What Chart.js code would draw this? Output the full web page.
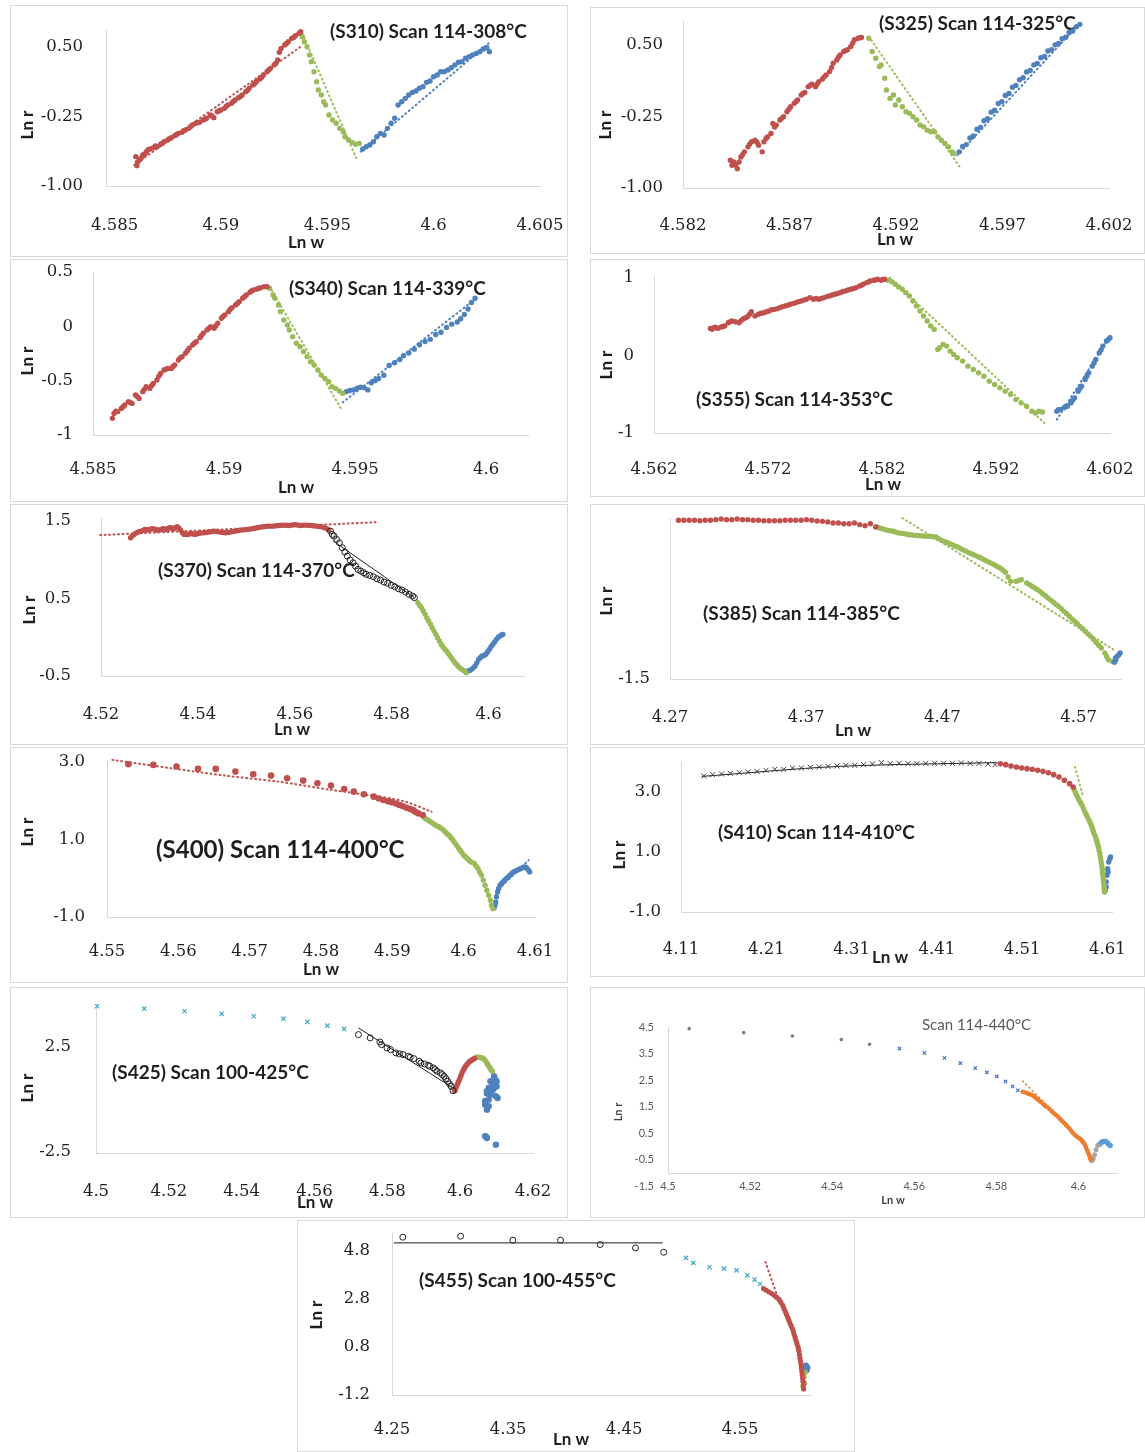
<!DOCTYPE html>
<html>
<head>
<meta charset="utf-8">
<title>Ln r vs Ln w scans</title>
<script src="https://cdn.jsdelivr.net/npm/chart.js@4.4.1/dist/chart.umd.min.js"></script>
<style>
  html, body { margin: 0; padding: 0; background: #fff; }
  body { width: 1145px; height: 1452px; position: relative; overflow: hidden; }
  .panel { position: absolute; box-sizing: border-box; outline: 1px solid #d9d9d9; outline-offset: -1px; background: #fff; }
  .panel canvas { position: absolute; left: 0; top: 0; }
</style>
</head>
<body>
<script>
// ---------- S310 ----------
const s310XTicks = ['4.585', '4.59', '4.595', '4.6', '4.605'];
const s310YTicks = ['0.50', '-0.25', '-1.00'];
const s310Red = [[4.58600,-0.684],[4.58605,-0.781],[4.58617,-0.720],[4.58633,-0.666],[4.58650,-0.630],[4.58667,-0.602],[4.58683,-0.587],[4.58700,-0.576],[4.58717,-0.551],[4.58733,-0.523],[4.58750,-0.505],[4.58767,-0.480],[4.58783,-0.458],[4.58800,-0.433],[4.58817,-0.422],[4.58833,-0.397],[4.58850,-0.379],[4.58867,-0.343],[4.58883,-0.325],[4.58900,-0.314],[4.58917,-0.289],[4.58933,-0.271],[4.58950,-0.236],[4.58967,-0.264],[4.58983,-0.200],[4.59000,-0.182],[4.59017,-0.164],[4.59033,-0.128],[4.59050,-0.110],[4.59067,-0.074],[4.59083,-0.049],[4.59100,-0.020],[4.59117,0.016],[4.59133,0.052],[4.59150,0.087],[4.59167,0.123],[4.59183,0.152],[4.59200,0.195],[4.59217,0.231],[4.59233,0.267],[4.59250,0.303],[4.59267,0.357],[4.59283,0.482],[4.59300,0.518],[4.59317,0.554],[4.59333,0.590],[4.59350,0.619],[4.59367,0.644],[4.59375,0.662],
  [4.58608,-0.745],[4.58625,-0.700],[4.58642,-0.655],[4.58658,-0.610],[4.58692,-0.570],[4.58725,-0.540],[4.58758,-0.490],[4.58792,-0.445],[4.58825,-0.405],[4.58858,-0.360],[4.58892,-0.318],[4.58925,-0.280],[4.58958,-0.245],[4.58992,-0.190],[4.59025,-0.140],[4.59058,-0.090],[4.59092,-0.035],[4.59125,0.030],[4.59158,0.100],[4.59192,0.170],[4.59225,0.250],[4.59258,0.320],[4.59275,0.440],[4.59308,0.535],[4.59342,0.600]];
const s310RedFit = [[4.58592,-0.774],[4.59375,0.500]];
const s310Green = [[4.59383,0.608],[4.59392,0.554],[4.59405,0.500],[4.59417,0.411],[4.59425,0.339],[4.59438,0.231],[4.59450,0.123],[4.59458,0.034],[4.59472,-0.020],[4.59483,-0.092],[4.59492,-0.128],[4.59508,-0.236],[4.59525,-0.289],[4.59542,-0.325],[4.59558,-0.379],[4.59575,-0.415],[4.59583,-0.469],[4.59600,-0.505],[4.59617,-0.530],[4.59633,-0.551],[4.59650,-0.541]];
const s310GreenFit = [[4.59383,0.644],[4.59642,-0.731]];
const s310Blue = [[4.59667,-0.602],[4.59683,-0.576],[4.59700,-0.559],[4.59717,-0.523],[4.59733,-0.469],[4.59750,-0.433],[4.59767,-0.451],[4.59783,-0.379],[4.59800,-0.325],[4.59817,-0.271],[4.59833,-0.128],[4.59850,-0.092],[4.59867,-0.056],[4.59883,-0.020],[4.59900,0.008],[4.59917,0.023],[4.59933,0.052],[4.59950,0.070],[4.59967,0.116],[4.59983,0.131],[4.60000,0.177],[4.60017,0.195],[4.60033,0.231],[4.60050,0.231],[4.60067,0.249],[4.60083,0.274],[4.60100,0.303],[4.60117,0.332],[4.60133,0.339],[4.60150,0.375],[4.60167,0.393],[4.60183,0.411],[4.60200,0.428],[4.60217,0.446],[4.60233,0.475],[4.60250,0.489],[4.60262,0.446]];
const s310BlueFit = [[4.59658,-0.630],[4.60258,0.536]];

// ---------- S325 ----------
const s325XTicks = ['4.582', '4.587', '4.592', '4.597', '4.602'];
const s325YTicks = ['0.50', '-0.25', '-1.00'];
const s325Red = [[4.58422,-0.709],[4.58430,-0.762],[4.58438,-0.727],[4.58455,-0.797],[4.58463,-0.727],[4.58472,-0.674],[4.58488,-0.621],[4.58505,-0.569],[4.58522,-0.516],[4.58538,-0.499],[4.58555,-0.551],[4.58572,-0.621],[4.58580,-0.516],[4.58597,-0.464],[4.58613,-0.429],[4.58622,-0.324],[4.58638,-0.341],[4.58655,-0.288],[4.58672,-0.253],[4.58688,-0.201],[4.58705,-0.148],[4.58722,-0.113],[4.58738,-0.078],[4.58755,-0.026],[4.58772,0.002],[4.58788,0.062],[4.58805,0.087],[4.58822,0.062],[4.58838,0.115],[4.58855,0.143],[4.58872,0.185],[4.58888,0.220],[4.58905,0.307],[4.58922,0.342],[4.58938,0.395],[4.58955,0.430],[4.58972,0.448],[4.58988,0.483],[4.59005,0.553],[4.59022,0.570],[4.59038,0.577],
  [4.58447,-0.760],[4.58480,-0.650],[4.58513,-0.540],[4.58547,-0.520],[4.58590,-0.480],[4.58630,-0.360],[4.58663,-0.270],[4.58697,-0.175],[4.58730,-0.095],[4.58763,-0.010],[4.58797,0.075],[4.58830,0.090],[4.58863,0.165],[4.58897,0.260],[4.58930,0.370],[4.58963,0.440],[4.58997,0.520],[4.59030,0.575]];
const s325Green = [[4.59072,0.570],[4.59088,0.430],[4.59105,0.360],[4.59122,0.272],[4.59130,0.290],[4.59147,0.150],[4.59155,0.027],[4.59172,-0.061],[4.59188,-0.026],[4.59197,-0.131],[4.59213,-0.078],[4.59230,-0.148],[4.59247,-0.201],[4.59263,-0.218],[4.59280,-0.253],[4.59297,-0.288],[4.59313,-0.341],[4.59330,-0.359],[4.59347,-0.394],[4.59363,-0.411],[4.59380,-0.411],[4.59397,-0.464],[4.59413,-0.499],[4.59430,-0.534],[4.59447,-0.569],[4.59463,-0.621],[4.59472,-0.639]];
const s325GreenFit = [[4.59072,0.588],[4.59505,-0.797]];
const s325Blue = [[4.59497,-0.621],[4.59513,-0.565],[4.59530,-0.545],[4.59547,-0.475],[4.59563,-0.455],[4.59580,-0.385],[4.59597,-0.365],[4.59613,-0.295],[4.59630,-0.275],[4.59647,-0.205],[4.59663,-0.185],[4.59680,-0.115],[4.59697,-0.095],[4.59713,-0.030],[4.59730,-0.010],[4.59747,0.055],[4.59763,0.075],[4.59780,0.135],[4.59797,0.155],[4.59813,0.215],[4.59830,0.232],[4.59847,0.290],[4.59863,0.305],[4.59880,0.365],[4.59897,0.378],[4.59913,0.435],[4.59930,0.448],[4.59947,0.500],[4.59963,0.515],[4.59980,0.565],[4.59997,0.580],[4.60013,0.630],[4.60030,0.645],[4.60047,0.690],[4.60063,0.715]];
const s325BlueFit = [[4.59488,-0.657],[4.60063,0.728]];

// ---------- S340 ----------
const s340XTicks = ['4.585', '4.59', '4.595', '4.6'];
const s340YTicks = ['0.5', '0', '-0.5', '-1'];
const s340Red = [[4.58574,-0.847],[4.58580,-0.801],[4.58594,-0.785],[4.58608,-0.755],[4.58621,-0.724],[4.58635,-0.693],[4.58649,-0.709],[4.58662,-0.632],[4.58676,-0.663],[4.58690,-0.601],[4.58703,-0.555],[4.58717,-0.571],[4.58730,-0.525],[4.58744,-0.494],[4.58758,-0.433],[4.58771,-0.402],[4.58785,-0.387],[4.58799,-0.387],[4.58812,-0.356],[4.58826,-0.310],[4.58840,-0.279],[4.58853,-0.248],[4.58867,-0.202],[4.58880,-0.172],[4.58894,-0.141],[4.58908,-0.104],[4.58921,-0.064],[4.58935,-0.034],[4.58949,-0.003],[4.58962,-0.018],[4.58976,0.028],[4.58990,0.074],[4.59003,0.104],[4.59017,0.135],[4.59030,0.172],[4.59044,0.196],[4.59058,0.227],[4.59071,0.258],[4.59085,0.288],[4.59099,0.313],[4.59112,0.334],[4.59126,0.344],[4.59140,0.356],[4.59153,0.365],[4.59164,0.365],
  [4.58587,-0.780],[4.58615,-0.740],[4.58642,-0.700],[4.58669,-0.645],[4.58696,-0.580],[4.58724,-0.545],[4.58751,-0.460],[4.58778,-0.395],[4.58805,-0.370],[4.58833,-0.290],[4.58860,-0.225],[4.58887,-0.155],[4.58914,-0.085],[4.58942,-0.020],[4.58969,0.005],[4.58996,0.090],[4.59023,0.155],[4.59051,0.210],[4.59078,0.272],[4.59105,0.325],[4.59133,0.350]];
const s340Green = [[4.59174,0.350],[4.59187,0.288],[4.59194,0.258],[4.59208,0.196],[4.59215,0.135],[4.59228,0.058],[4.59242,0.012],[4.59249,-0.034],[4.59262,-0.095],[4.59276,-0.156],[4.59290,-0.187],[4.59303,-0.233],[4.59317,-0.279],[4.59330,-0.325],[4.59344,-0.356],[4.59358,-0.402],[4.59371,-0.448],[4.59385,-0.479],[4.59399,-0.509],[4.59412,-0.555],[4.59426,-0.571],[4.59440,-0.595],[4.59453,-0.617]];
const s340GreenFit = [[4.59174,0.365],[4.59446,-0.755]];
const s340Blue = [[4.59467,-0.601],[4.59480,-0.590],[4.59494,-0.585],[4.59508,-0.570],[4.59521,-0.560],[4.59535,-0.565],[4.59549,-0.585],[4.59562,-0.520],[4.59576,-0.500],[4.59590,-0.480],[4.59610,-0.450],[4.59630,-0.360],[4.59651,-0.335],[4.59671,-0.305],[4.59685,-0.270],[4.59705,-0.245],[4.59726,-0.210],[4.59746,-0.170],[4.59767,-0.140],[4.59787,-0.120],[4.59808,-0.075],[4.59828,-0.055],[4.59849,-0.010],[4.59869,0.020],[4.59890,0.040],[4.59903,0.070],[4.59917,0.110],[4.59931,0.160],[4.59944,0.220],[4.59958,0.258]];
const s340BlueFit = [[4.59453,-0.700],[4.59958,0.250]];

// ---------- S355 ----------
const s355XTicks = ['4.562', '4.572', '4.582', '4.592', '4.602'];
const s355YTicks = ['1', '0', '-1'];
const s355Red = [[4.56695,0.346],[4.56726,0.355],[4.56758,0.346],[4.56789,0.363],[4.56820,0.376],[4.56851,0.419],[4.56882,0.441],[4.56913,0.432],[4.56945,0.419],[4.56976,0.462],[4.57007,0.484],[4.57038,0.527],[4.57054,0.561],[4.57085,0.505],[4.57116,0.527],[4.57163,0.548],[4.57209,0.570],[4.57256,0.591],[4.57303,0.613],[4.57350,0.634],[4.57396,0.656],[4.57443,0.677],[4.57490,0.699],[4.57536,0.720],[4.57568,0.742],[4.57599,0.720],[4.57645,0.720],[4.57692,0.742],[4.57739,0.763],[4.57786,0.785],[4.57832,0.806],[4.57879,0.828],[4.57926,0.849],[4.57973,0.871],[4.58004,0.892],[4.58035,0.914],[4.58066,0.935],[4.58097,0.957],[4.58128,0.966],[4.58160,0.978],[4.58191,0.966],[4.58222,0.978],
  [4.57140,0.540],[4.57186,0.560],[4.57232,0.585],[4.57280,0.600],[4.57326,0.625],[4.57373,0.645],[4.57420,0.665],[4.57466,0.690],[4.57513,0.710],[4.57622,0.730],[4.57668,0.730],[4.57716,0.755],[4.57762,0.775],[4.57810,0.795],[4.57856,0.820],[4.57902,0.840],[4.57950,0.860],[4.58020,0.900],[4.58082,0.945],[4.58144,0.970],[4.58206,0.975],[4.56710,0.335],[4.56740,0.360],[4.56805,0.370],[4.56867,0.430],[4.56960,0.440],[4.56990,0.475],[4.57022,0.500]];
const s355Green = [[4.58253,0.966],[4.58284,0.948],[4.58315,0.914],[4.58346,0.880],[4.58378,0.849],[4.58409,0.806],[4.58440,0.763],[4.58471,0.699],[4.58502,0.634],[4.58533,0.570],[4.58564,0.505],[4.58596,0.441],[4.58627,0.376],[4.58658,0.333],[4.58689,0.075],[4.58705,0.097],[4.58736,0.140],[4.58767,0.118],[4.58798,0.054],[4.58829,0.011],[4.58860,-0.032],[4.58907,-0.075],[4.58954,-0.140],[4.59001,-0.183],[4.59047,-0.226],[4.59094,-0.269],[4.59141,-0.333],[4.59188,-0.376],[4.59234,-0.419],[4.59281,-0.462],[4.59328,-0.505],[4.59374,-0.570],[4.59421,-0.613],[4.59468,-0.656],[4.59515,-0.720],[4.59546,-0.742],[4.59577,-0.720],[4.59608,-0.730]];
const s355GreenFit = [[4.58269,1.000],[4.59624,-0.871]];
const s355Blue = [[4.59733,-0.720],[4.59764,-0.699],[4.59795,-0.677],[4.59826,-0.656],[4.59857,-0.613],[4.59889,-0.548],[4.59920,-0.462],[4.59951,-0.398],[4.59982,-0.312],[4.60013,-0.226],[4.60044,-0.140],[4.60075,-0.054],[4.60106,0.032],[4.60137,0.118],[4.60169,0.183],[4.60200,0.226],
  [4.59748,-0.700],[4.59810,-0.660],[4.59872,-0.580],[4.59935,-0.430],[4.59997,-0.270],[4.60060,-0.100],[4.60122,0.070],[4.60184,0.200]];
const s355BlueFit = [[4.59733,-0.828],[4.60200,0.247]];

// ---------- S370 ----------
const s370XTicks = ['4.52', '4.54', '4.56', '4.58', '4.6'];
const s370YTicks = ['1.5', '0.5', '-0.5'];
const s370Red = [[4.52611,1.285],[4.52685,1.328],[4.52759,1.358],[4.52832,1.371],[4.52906,1.392],[4.52980,1.384],[4.53053,1.401],[4.53127,1.392],[4.53201,1.384],[4.53274,1.401],[4.53348,1.392],[4.53422,1.414],[4.53495,1.401],[4.53569,1.427],[4.53643,1.384],[4.53716,1.328],[4.53790,1.328],[4.53864,1.341],[4.53937,1.328],[4.54011,1.341],[4.54122,1.349],[4.54232,1.358],[4.54343,1.371],[4.54453,1.358],[4.54564,1.349],[4.54674,1.358],[4.54785,1.371],[4.54895,1.384],[4.55006,1.392],[4.55116,1.401],[4.55227,1.414],[4.55337,1.427],[4.55448,1.435],[4.55558,1.435],[4.55669,1.444],[4.55779,1.448],[4.55890,1.444],[4.56000,1.453],[4.56111,1.444],[4.56221,1.448],[4.56332,1.444],[4.56442,1.435],[4.56553,1.427],[4.56663,1.401],[4.56700,1.384],
  [4.52648,1.310],[4.52722,1.345],[4.52795,1.365],[4.52869,1.380],[4.52943,1.390],[4.53016,1.395],[4.53090,1.400],[4.53164,1.385],[4.53238,1.390],[4.53311,1.400],[4.53385,1.405],[4.53458,1.410],[4.53532,1.415],[4.53606,1.410],[4.53680,1.350],[4.53753,1.330],[4.53827,1.335],[4.53900,1.335],[4.53974,1.335],[4.54066,1.345],[4.54177,1.352],[4.54288,1.365],[4.54398,1.365],[4.54509,1.352],[4.54619,1.352],[4.54730,1.365],[4.54840,1.378],[4.54950,1.388],[4.55061,1.396],[4.55172,1.408],[4.55282,1.420],[4.55393,1.431],[4.55503,1.435],[4.55614,1.440],[4.55724,1.446],[4.55835,1.446],[4.55945,1.449],[4.56055,1.449],[4.56166,1.446],[4.56276,1.446],[4.56387,1.440],[4.56497,1.431],[4.56608,1.415]];
const s370RedFit = [[4.51985,1.319],[4.57731,1.487]];
const s370Rings = [[4.56737,1.371],[4.56773,1.328],[4.56810,1.306],[4.56862,1.263],[4.56921,1.220],[4.56980,1.156],[4.57031,1.100],[4.57083,1.048],[4.57142,0.997],[4.57201,0.962],[4.57252,0.919],[4.57304,0.876],[4.57363,0.855],[4.57422,0.833],[4.57473,0.812],[4.57547,0.799],[4.57621,0.782],[4.57694,0.756],[4.57768,0.739],[4.57842,0.713],[4.57915,0.696],[4.57989,0.670],[4.58063,0.653],[4.58136,0.627],[4.58210,0.610],[4.58284,0.584],[4.58357,0.554],[4.58431,0.532],[4.58468,0.511]];
const s370RingsFit = [[4.56796,1.242],[4.58468,0.511]];
const s370Green = [[4.58541,0.446],[4.58615,0.382],[4.58689,0.296],[4.58762,0.210],[4.58836,0.124],[4.58910,0.038],[4.58983,-0.048],[4.59057,-0.122],[4.59131,-0.177],[4.59204,-0.242],[4.59278,-0.306],[4.59352,-0.362],[4.59425,-0.405],[4.59499,-0.435],[4.59536,-0.457],
  [4.58578,0.410],[4.58652,0.340],[4.58726,0.250],[4.58799,0.170],[4.58873,0.080],[4.58946,-0.005],[4.59020,-0.090],[4.59094,-0.150],[4.59168,-0.210],[4.59241,-0.275],[4.59315,-0.335],[4.59388,-0.385],[4.59462,-0.420]];
const s370Blue = [[4.59573,-0.435],[4.59646,-0.414],[4.59720,-0.371],[4.59794,-0.285],[4.59867,-0.242],[4.59941,-0.220],[4.60015,-0.156],[4.60088,-0.091],[4.60162,-0.027],[4.60236,0.016],[4.60295,0.038],
  [4.59610,-0.430],[4.59683,-0.395],[4.59757,-0.330],[4.59830,-0.260],[4.59904,-0.235],[4.59978,-0.190],[4.60051,-0.120],[4.60125,-0.060],[4.60199,0.000],[4.60265,0.030]];

// ---------- S385 ----------
const s385XTicks = ['4.27', '4.37', '4.47', '4.57'];
const s385YTicks = ['-1.5'];
const s385Red = [[4.27626,1.457],[4.28017,1.457],[4.28408,1.457],[4.28800,1.457],[4.29191,1.450],[4.29582,1.457],[4.29973,1.457],[4.30365,1.469],[4.30756,1.481],[4.31147,1.469],[4.31538,1.469],[4.31930,1.481],[4.32321,1.469],[4.32712,1.469],[4.33103,1.457],[4.33495,1.457],[4.33886,1.450],[4.34277,1.450],[4.34668,1.450],[4.35060,1.450],[4.35451,1.457],[4.35842,1.457],[4.36233,1.457],[4.36625,1.457],[4.37016,1.469],[4.37407,1.457],[4.37798,1.444],[4.38190,1.438],[4.38581,1.425],[4.38972,1.407],[4.39363,1.407],[4.39754,1.394],[4.40146,1.394],[4.40537,1.407],[4.40928,1.376],[4.41319,1.357],[4.41711,1.394],[4.42102,1.332]];
const s385Green = [[4.42232,1.332],[4.42623,1.295],[4.43014,1.270],[4.43406,1.252],[4.43797,1.220],[4.44188,1.208],[4.44579,1.189],[4.44971,1.177],[4.45362,1.171],[4.45753,1.158],[4.46144,1.158],[4.46536,1.146],[4.46927,1.084],[4.47318,1.047],[4.47709,1.003],[4.48101,0.960],[4.48492,0.910],[4.48883,0.860],[4.49274,0.817],[4.49665,0.773],[4.50057,0.724],[4.50448,0.674],[4.50839,0.624],[4.51230,0.568],[4.51622,0.488],[4.52013,0.320],[4.52404,0.320],[4.52795,0.351],[4.53187,0.289],[4.53578,0.227],[4.53969,0.165],[4.54360,0.090],[4.54752,0.009],[4.55143,-0.071],[4.55534,-0.146],[4.55925,-0.239],[4.56317,-0.332],[4.56708,-0.425],[4.57099,-0.519],[4.57490,-0.612],[4.57881,-0.705],[4.58273,-0.817],[4.58664,-0.922],[4.58925,-1.016],[4.59186,-1.140],[4.59446,-1.171],
  [4.42428,1.310],[4.42820,1.280],[4.43210,1.260],[4.43600,1.235],[4.43990,1.214],[4.44380,1.198],[4.44770,1.183],[4.45170,1.174],[4.45560,1.165],[4.45950,1.160],[4.46340,1.150],[4.46730,1.115],[4.47120,1.065],[4.47510,1.025],[4.47910,0.980],[4.48300,0.935],[4.48690,0.885],[4.49080,0.840],[4.49470,0.795],[4.49860,0.750],[4.50250,0.700],[4.50640,0.650],[4.51030,0.595],[4.51430,0.530],[4.51820,0.400],[4.52610,0.335],[4.53390,0.260],[4.53780,0.195],[4.54170,0.130],[4.54560,0.050],[4.54950,-0.030],[4.55340,-0.110],[4.55730,-0.190],[4.56120,-0.285],[4.56510,-0.380],[4.56900,-0.470],[4.57290,-0.565],[4.57690,-0.660],[4.58080,-0.760],[4.58470,-0.870],[4.59060,-1.080]];
const s385GreenFit = [[4.44058,1.500],[4.59577,-0.953]];
const s385Blue = [[4.59629,-1.189],[4.59733,-1.140],[4.59837,-1.078],[4.59942,-1.047],[4.60046,-1.016],[4.59707,-1.109]];

// ---------- S400 ----------
const s400XTicks = ['4.55', '4.56', '4.57', '4.58', '4.59', '4.6', '4.61'];
const s400YTicks = ['3.0', '1.0', '-1.0'];
const s400Red = [[4.55300,2.931],[4.55650,2.914],[4.55975,2.871],[4.56275,2.811],[4.56525,2.811],[4.56800,2.742],[4.57050,2.673],[4.57300,2.639],[4.57525,2.570],[4.57750,2.510],[4.57950,2.441],[4.58140,2.381],[4.58325,2.295],[4.58460,2.226],[4.58600,2.157],[4.58740,2.097],[4.58875,2.011],[4.58990,1.951],[4.59100,1.882],[4.59200,1.813],[4.59290,1.753],[4.59360,1.667],[4.59425,1.624],
  [4.58810,2.050],[4.58940,1.980],[4.59050,1.920],[4.59150,1.850],[4.59250,1.780],[4.59320,1.710]];
const s400RedFit = [[4.55075,3.043],[4.55900,2.828],[4.56650,2.639],[4.57400,2.484],[4.58150,2.269],[4.58650,2.140],[4.59150,1.985],[4.59550,1.710]];
const s400Green = [[4.59450,1.555],[4.59500,1.495],[4.59550,1.434],[4.59600,1.366],[4.59650,1.323],[4.59700,1.262],[4.59750,1.176],[4.59800,1.090],[4.59850,0.978],[4.59900,0.849],[4.59950,0.720],[4.60000,0.591],[4.60050,0.505],[4.60100,0.419],[4.60150,0.376],[4.60200,0.247],[4.60250,0.075],[4.60300,-0.183],[4.60350,-0.441],[4.60390,-0.699],[4.60410,-0.785],
  [4.59475,1.520],[4.59525,1.460],[4.59575,1.400],[4.59625,1.345],[4.59675,1.290],[4.59725,1.220],[4.59775,1.130],[4.59825,1.035],[4.59875,0.910],[4.59925,0.785],[4.59975,0.655],[4.60025,0.550],[4.60075,0.460],[4.60125,0.400],[4.60175,0.310],[4.60225,0.160],[4.60275,-0.050],[4.60325,-0.310],[4.60375,-0.570]];
const s400Blue = [[4.60425,-0.768],[4.60450,-0.613],[4.60475,-0.355],[4.60510,-0.183],[4.60550,-0.097],[4.60600,-0.011],[4.60650,0.075],[4.60700,0.161],[4.60750,0.204],[4.60800,0.247],[4.60850,0.290],[4.60890,0.247],[4.60925,0.161],
  [4.60440,-0.700],[4.60460,-0.480],[4.60490,-0.270],[4.60530,-0.140],[4.60575,-0.050],[4.60625,0.030],[4.60675,0.120],[4.60725,0.180],[4.60775,0.225],[4.60825,0.270],[4.60870,0.280],[4.60910,0.200]];
const s400BlueFit = [[4.60500,-0.269],[4.60910,0.462]];

// ---------- S410 ----------
const s410XTicks = ['4.11', '4.21', '4.31', '4.41', '4.51', '4.61'];
const s410YTicks = ['3.0', '1.0', '-1.0'];
const s410Cross = [[4.13667,3.533],[4.14708,3.578],[4.15750,3.600],[4.16792,3.622],[4.17833,3.644],[4.18875,3.667],[4.19917,3.689],[4.20958,3.722],[4.22000,3.756],[4.23042,3.756],[4.24083,3.800],[4.25125,3.800],[4.26167,3.822],[4.27208,3.833],[4.28250,3.856],[4.29292,3.867],[4.30333,3.889],[4.31375,3.889],[4.32417,3.911],[4.33458,3.933],[4.34500,3.978],[4.35542,3.944],[4.36583,3.956],[4.37625,3.944],[4.38667,3.944],[4.39708,3.956],[4.40750,3.956],[4.41792,3.956],[4.42833,3.956],[4.43875,3.967],[4.44917,3.956],[4.45958,3.956],[4.47000,3.933],[4.47833,3.911]];
const s410CrossFit = [[4.13460,3.520],[4.29290,3.850],[4.48040,3.980]];
const s410Red = [[4.48458,3.944],[4.49083,3.911],[4.49708,3.867],[4.50333,3.833],[4.50958,3.800],[4.51583,3.778],[4.52208,3.756],[4.52833,3.722],[4.53458,3.689],[4.54083,3.644],[4.54708,3.578],[4.55333,3.500],[4.55958,3.389],[4.56583,3.278],[4.57000,3.167]];
const s410Green = [[4.57125,3.056],[4.57417,2.889],[4.57708,2.722],[4.58042,2.556],[4.58375,2.333],[4.58667,2.167],[4.58958,2.000],[4.59208,1.833],[4.59375,1.667],[4.59625,1.500],[4.59792,1.333],[4.59958,1.167],[4.60125,0.944],[4.60250,0.722],[4.60375,0.500],[4.60458,0.278],[4.60542,0.056],[4.60625,-0.167],[4.60667,-0.333],
  [4.57271,2.970],[4.57563,2.800],[4.57875,2.640],[4.58208,2.440],[4.58520,2.250],[4.58813,2.080],[4.59083,1.920],[4.59290,1.750],[4.59500,1.580],[4.59710,1.410],[4.59875,1.250],[4.60040,1.050],[4.60188,0.830],[4.60313,0.610],[4.60417,0.390],[4.60500,0.170],[4.60583,-0.050],[4.60650,-0.250]];
const s410GreenFit = [[4.57208,3.833],[4.58125,2.889]];
const s410Blue = [[4.60750,-0.278],[4.60875,0.000],[4.60958,0.222],[4.61042,0.444],[4.61167,0.667],[4.61292,0.778],[4.61375,0.833],[4.60875,-0.167],[4.61083,0.333]];

// ---------- S425 ----------
const s425XTicks = ['4.5', '4.52', '4.54', '4.56', '4.58', '4.6', '4.62'];
const s425YTicks = ['2.5', '-2.5'];
const s425Cross = [[4.50029,4.405],[4.51324,4.294],[4.52431,4.167],[4.53451,4.040],[4.54333,3.929],[4.55147,3.817],[4.55804,3.659],[4.56353,3.484],[4.56814,3.325]];
const s425Rings = [[4.57206,3.056],[4.57529,2.897],[4.57794,2.706],[4.58088,2.341],[4.58235,2.183],[4.58431,2.103],[4.58578,2.024],[4.58725,1.913],[4.58873,1.786],[4.59020,1.659],[4.59167,1.548],[4.59314,1.389],[4.59461,1.230],[4.59559,1.071],[4.59657,0.833],[4.59755,0.595],[4.59804,0.389],[4.57843,2.579],[4.57990,2.421],[4.58333,2.135],[4.58627,1.976],[4.58922,1.706],[4.59118,1.595],[4.59265,1.468],[4.59363,1.310],[4.59510,1.151],[4.59608,0.960],[4.59706,0.706]];
const s425RingsFit = [[4.57206,3.373],[4.59804,0.516]];
const s425Red = [[4.59853,0.389],[4.59922,0.675],[4.59980,0.913],[4.60049,1.230],[4.60118,1.468],[4.60196,1.659],[4.60294,1.817],[4.60392,1.913],[4.59885,0.530],[4.59950,0.800],[4.60015,1.070],[4.60085,1.360],[4.60157,1.570],[4.60245,1.750],[4.60343,1.870]];
const s425Green = [[4.60441,1.976],[4.60539,1.976],[4.60637,1.913],[4.60735,1.706],[4.60804,1.500],[4.60882,1.310],[4.60490,1.980],[4.60588,1.950],[4.60686,1.820],[4.60770,1.600],[4.60843,1.400]];
const s425Blue = [[4.60931,1.071],[4.60960,0.913],[4.60833,0.833],[4.60882,0.675],[4.60784,0.516],[4.60931,0.516],[4.60735,0.357],[4.60833,0.198],[4.60980,0.119],[4.60784,-0.040],[4.60686,-0.278],[4.60735,-0.516],[4.61029,0.040],[4.60686,-1.786],[4.60735,-1.865],[4.60980,-2.183],[4.60882,0.754],[4.61000,0.833],[4.60735,0.250],[4.60890,0.400],[4.61000,0.600],[4.60686,-0.100],[4.60784,-0.350],[4.60710,-1.800]];

// ---------- Scan 114-440 ----------
const s440XTicks = ['4.5', '4.52', '4.54', '4.56', '4.58', '4.6'];
const s440YTicks = ['4.5', '3.5', '2.5', '1.5', '0.5', '-0.5', '-1.5'];
const s440Early = [[4.50515,4.4375],[4.51845,4.2875],[4.53030,4.1625],[4.54223,4.0250],[4.54910,3.8500]];
const s440Cross = [[4.55640,3.6875],[4.56249,3.5250],[4.56738,3.3375],[4.57124,3.1375],[4.57485,2.9500],[4.57768,2.7875],[4.58009,2.6375],[4.58223,2.4500],[4.58395,2.2625],[4.58524,2.1125]];
const s440Orange = [[4.58644,2.0625],[4.58755,2.0000],[4.58867,1.9375],[4.58970,1.8125],[4.59073,1.6875],[4.59185,1.5375],[4.59296,1.4125],[4.59399,1.2500],[4.59502,1.1250],[4.59597,0.9625],[4.59700,0.8125],[4.59785,0.6625],[4.59871,0.5000],[4.59957,0.3750],[4.60043,0.2875],[4.60103,0.1875],[4.60155,0.0625],[4.60197,-0.0875],[4.60240,-0.2500],[4.60275,-0.3750],[4.60300,-0.5000],
  [4.58700,2.030],[4.58810,1.970],[4.58920,1.880],[4.59020,1.750],[4.59130,1.610],[4.59240,1.480],[4.59350,1.330],[4.59450,1.190],[4.59550,1.040],[4.59650,0.890],[4.59740,0.740],[4.59830,0.580],[4.59910,0.440],[4.60000,0.330],[4.60070,0.240],[4.60130,0.130],[4.60180,-0.010],[4.60220,-0.170],[4.60260,-0.310],[4.60290,-0.440]];
const s440OrangeFit = [[4.58644,2.4625],[4.59227,1.5625]];
const s440Gray = [[4.60326,-0.5375],[4.60360,-0.4625],[4.60395,-0.3125],[4.60429,-0.1250],[4.60472,0.0375]];
const s440Blue = [[4.60515,0.0875],[4.60567,0.1625],[4.60618,0.1875],[4.60670,0.1875],[4.60721,0.1125],[4.60773,0.0375]];

// ---------- S455 ----------
const s455XTicks = ['4.25', '4.35', '4.45', '4.55'];
const s455YTicks = ['4.8', '2.8', '0.8', '-1.2'];
const s455Rings = [[4.25933,5.383],[4.30906,5.425],[4.35413,5.258],[4.39516,5.258],[4.42936,5.076],[4.45983,4.937],[4.48407,4.755]];
const s455RingsFit = [[4.25155,5.146],[4.48310,5.146]];
const s455Cross = [[4.50334,4.518],[4.50956,4.309],[4.52355,4.128],[4.53598,4.072],[4.54686,4.002],[4.55619,3.793],[4.56241,3.612],[4.56707,3.430]];
const s455Red = [[4.57018,3.235],[4.57484,3.096],[4.57950,2.956],[4.58354,2.775],[4.58665,2.538],[4.58883,2.287],[4.59100,2.036],[4.59287,1.799],[4.59505,1.562],[4.59660,1.310],[4.59816,1.059],[4.59971,0.822],[4.60064,0.613],[4.60157,0.334],[4.60251,0.055],[4.60313,-0.224],[4.60375,-0.503],[4.60437,-0.782],[4.60468,-0.949],
  [4.57250,3.170],[4.57720,3.030],[4.58150,2.870],[4.58510,2.660],[4.58770,2.410],[4.58990,2.160],[4.59190,1.920],[4.59400,1.680],[4.59580,1.440],[4.59740,1.180],[4.59890,0.940],[4.60020,0.720],[4.60110,0.470],[4.60200,0.190],[4.60280,-0.080],[4.60340,-0.360],[4.60410,-0.640]];
const s455RedFit = [[4.57174,4.351],[4.58261,2.845]];
const s455Green = [[4.60406,-0.851],[4.60468,-0.642],[4.60530,-0.433],[4.60592,-0.252],[4.60561,-0.712]];
const s455Blue = [[4.60654,0.027],[4.60779,-0.056],[4.60716,-0.154]];

// ---------- drawing ----------
const RED = '#C0504D', GREEN = '#9BBB59', BLUE = '#4F81BD', TEAL = '#4BACC6', INK = '#1f1f1f';
const ORANGE = '#ED7D31', GREY = '#A5A5A5', SKY = '#5B9BD5', NAVY = '#4472C4';

const TICK_FONT = { family: 'DejaVu Serif', size: 16.5 };
const TICK_COLOR = '#1f1f1f';
const AXIS_FONT = 'bold 17px Lato';
const NOTE_FONT = 'bold 19px Lato';

const toXY = a => a.map(p => ({ x: p[0], y: p[1] }));

function dots(data, color, r = 2.7) {
  return { data: toXY(data), showLine: false, pointStyle: 'circle', pointRadius: r,
    pointBackgroundColor: color, pointBorderColor: color, pointBorderWidth: 0, clip: false };
}
function rings(data, color = INK, r = 3) {
  return { data: toXY(data), showLine: false, pointStyle: 'circle', pointRadius: r,
    pointBackgroundColor: 'rgba(255,255,255,0)', pointBorderColor: color, pointBorderWidth: 1, clip: false };
}
function crosses(data, color, r = 3.2, w = 1.2) {
  return { data: toXY(data), showLine: false, pointStyle: 'crossRot', pointRadius: r,
    pointBorderColor: color, pointBackgroundColor: color, pointBorderWidth: w, clip: false };
}
function dotted(data, color, w = 2) {
  return { data: toXY(data), showLine: true, pointRadius: 0, borderColor: color, borderWidth: w,
    borderDash: [1, 3.5], borderCapStyle: 'round', fill: false, tension: 0.3, clip: false };
}
function solid(data, color = INK, w = 1) {
  return { data: toXY(data), showLine: true, pointRadius: 0, borderColor: color, borderWidth: w,
    fill: false, tension: 0.3, clip: false };
}

const note = (t, x, y, font = NOTE_FONT, color = INK) => ({ t, x, y, font, color, align: 'left' });
const yTitle = (x, y, font = AXIS_FONT, color = INK) => ({ t: 'Ln r', x, y, font, color, align: 'center', rot: -Math.PI / 2 });
const xTitle = (x, y, font = AXIS_FONT, color = INK) => ({ t: 'Ln w', x, y, font, color, align: 'center' });

function textLayer(items, box) {
  return {
    id: 'textLayer',
    beforeDatasetsDraw(chart) {
      const ctx = chart.ctx;
      items.forEach(it => {
        ctx.save();
        ctx.font = it.font;
        ctx.fillStyle = it.color;
        ctx.textAlign = it.align;
        ctx.textBaseline = 'middle';
        ctx.translate(it.x - box[0], it.y - box[1]);
        if (it.rot) ctx.rotate(it.rot);
        ctx.fillText(it.t, 0, 0);
        ctx.restore();
      });
    }
  };
}

function axisOptions(a, horizontal, size) {
  return {
    type: 'linear', min: a.min, max: a.max, bounds: 'data',
    grid: { display: false, drawTicks: false },
    border: { display: true, color: '#d9d9d9', width: 1 },
    ticks: {
      autoSkip: false, maxRotation: 0, minRotation: 0, padding: a.pad,
      font: a.font || TICK_FONT, color: a.color || TICK_COLOR,
      callback: (v, i) => a.labels[i]
    },
    afterBuildTicks: s => { s.ticks = a.labels.map(l => ({ value: Number(l) })); },
    afterFit: s => {
      if (horizontal) { s.height = size; } else { s.width = size; }
      s.paddingLeft = 0; s.paddingRight = 0; s.paddingTop = 0; s.paddingBottom = 0;
    }
  };
}

function buildPanel(p) {
  const [bl, bt, br, bb] = p.box;
  const W = br - bl, H = bb - bt;
  const wrap = document.createElement('div');
  wrap.className = 'panel';
  Object.assign(wrap.style, { left: bl + 'px', top: bt + 'px', width: W + 'px', height: H + 'px' });
  const cv = document.createElement('canvas');
  cv.width = W; cv.height = H;
  cv.style.width = W + 'px'; cv.style.height = H + 'px';
  wrap.appendChild(cv);
  document.body.appendChild(wrap);
  const [L, T, R, B] = p.area;
  new Chart(cv, {
    type: 'scatter',
    data: { datasets: p.datasets },
    options: {
      responsive: false, animation: false, devicePixelRatio: 1, events: [],
      layout: { autoPadding: false, padding: { left: 0, top: T - bt, right: br - R, bottom: 0 } },
      plugins: { legend: { display: false }, tooltip: { enabled: false }, title: { display: false } },
      scales: { x: axisOptions(p.x, true, bb - B), y: axisOptions(p.y, false, L - bl) }
    },
    plugins: [textLayer(p.texts, p.box)]
  });
}

const SMALL_TICK = { family: 'Lato', size: 11 };
const panels = [
  { box: [10, 5, 568, 257], area: [106, 30, 540, 186],
    x: { min: 4.5846, max: 4.605, labels: s310XTicks, pad: 30 },
    y: { min: -1, max: 0.68, labels: s310YTicks, pad: 23 },
    texts: [note('(S310) Scan 114-308°C', 330, 32), yTitle(28, 125), xTitle(306, 243)],
    datasets: [dots(s310Red, RED), dots(s310Green, GREEN), dots(s310Blue, BLUE),
      dotted(s310RedFit, RED), dotted(s310GreenFit, GREEN), dotted(s310BlueFit, BLUE)] },
  { box: [590, 7, 1145, 254], area: [683, 21, 1109, 188],
    x: { min: 4.582, max: 4.602, labels: s325XTicks, pad: 28 },
    y: { min: -1, max: 0.75, labels: s325YTicks, pad: 20 },
    texts: [note('(S325) Scan 114-325°C', 879, 24), yTitle(606, 125), xTitle(895, 240)],
    datasets: [dots(s325Red, RED), dots(s325Green, GREEN), dots(s325Blue, BLUE),
      dotted(s325GreenFit, GREEN), dotted(s325BlueFit, BLUE)] },
  { box: [10, 259, 568, 502], area: [93, 272, 528, 435],
    x: { min: 4.585, max: 4.6016, labels: s340XTicks, pad: 25 },
    y: { min: -1, max: 0.5, labels: s340YTicks, pad: 20 },
    texts: [note('(S340) Scan 114-339°C', 289, 289), yTitle(28, 361), xTitle(296, 488)],
    datasets: [dots(s340Red, RED), dots(s340Green, GREEN), dots(s340Blue, BLUE),
      dotted(s340GreenFit, GREEN), dotted(s340BlueFit, BLUE)] },
  { box: [590, 259, 1145, 497], area: [654, 276, 1110, 433],
    x: { min: 4.562, max: 4.602, labels: s355XTicks, pad: 27 },
    y: { min: -1, max: 1.02, labels: s355YTicks, pad: 20 },
    texts: [note('(S355) Scan 114-353°C', 696, 400), yTitle(607, 365), xTitle(883, 485)],
    datasets: [dots(s355Red, RED), dots(s355Green, GREEN), dots(s355Blue, BLUE),
      dotted(s355GreenFit, GREEN), dotted(s355BlueFit, BLUE)] },
  { box: [10, 504, 568, 745], area: [101, 518, 524, 676],
    x: { min: 4.52, max: 4.6073, labels: s370XTicks, pad: 29 },
    y: { min: -0.5, max: 1.54, labels: s370YTicks, pad: 30 },
    texts: [note('(S370) Scan 114-370°C', 158, 571), yTitle(30, 610), xTitle(292, 730)],
    datasets: [rings(s370Rings), dots(s370Red, RED), dots(s370Green, GREEN), dots(s370Blue, BLUE),
      solid(s370RingsFit), dotted(s370RedFit, RED)] },
  { box: [590, 504, 1145, 745], area: [670, 518, 1121, 679],
    x: { min: 4.27, max: 4.6011, labels: s385XTicks, pad: 29 },
    y: { min: -1.5, max: 1.5, labels: s385YTicks, pad: 20 },
    texts: [note('(S385) Scan 114-385°C', 703, 614), yTitle(607, 601), xTitle(853, 731)],
    datasets: [dots(s385Red, RED), dots(s385Blue, BLUE), dots(s385Green, GREEN),
      dotted(s385GreenFit, GREEN)] },
  { box: [10, 747, 568, 983], area: [107, 760, 535, 917],
    x: { min: 4.55, max: 4.61, labels: s400XTicks, pad: 25 },
    y: { min: -1, max: 3.04, labels: s400YTicks, pad: 22 },
    texts: [note('(S400) Scan 114-400°C', 156, 850, 'bold 24px Lato'), yTitle(28, 832), xTitle(321, 970)],
    datasets: [dots(s400Red, RED, 3.3), dots(s400Green, GREEN), dots(s400Blue, BLUE),
      dotted(s400RedFit, RED), dotted(s400BlueFit, BLUE)] },
  { box: [590, 747, 1145, 977], area: [681, 762, 1112, 912],
    x: { min: 4.11, max: 4.6155, labels: s410XTicks, pad: 28 },
    y: { min: -1, max: 4, labels: s410YTicks, pad: 20 },
    texts: [note('(S410) Scan 114-410°C', 718, 833), yTitle(620, 855), xTitle(890, 958)],
    datasets: [crosses(s410Cross, '#404040', 3.6, 1), dots(s410Red, RED, 2.8), dots(s410Green, GREEN), dots(s410Blue, BLUE),
      solid(s410CrossFit, INK), dotted(s410GreenFit, GREEN)] },
  { box: [10, 987, 568, 1218], area: [96, 1003, 533, 1153],
    x: { min: 4.5, max: 4.62, labels: s425XTicks, pad: 29 },
    y: { min: -2.58, max: 4.56, labels: s425YTicks, pad: 25 },
    texts: [note('(S425) Scan 100-425°C', 112, 1073), yTitle(28, 1088), xTitle(315, 1203)],
    datasets: [crosses(s425Cross, TEAL, 3, 1.3), rings(s425Rings, INK, 3), dots(s425Red, RED, 2.8),
      dots(s425Green, GREEN, 2.8), dots(s425Blue, BLUE, 3.2), solid(s425RingsFit, INK)] },
  { box: [590, 987, 1145, 1218], area: [668, 1027, 1117, 1173],
    x: { min: 4.5, max: 4.6094, labels: s440XTicks, pad: 7, font: SMALL_TICK, color: '#595959' },
    y: { min: -1, max: 4.5, labels: s440YTicks, pad: 14, font: SMALL_TICK, color: '#595959' },
    texts: [note('Scan 114-440°C', 922, 1025, '15px Lato', '#595959'),
      yTitle(618, 1112, 'bold 11px Lato', '#404040'), xTitle(893, 1200, 'bold 11px Lato', '#404040')],
    datasets: [dots(s440Early, '#7f7f7f', 1.8), crosses(s440Cross, NAVY, 2.4, 1.2), dots(s440Orange, ORANGE, 2.3),
      dots(s440Gray, GREY, 2.5), dots(s440Blue, SKY, 2.7), dotted(s440OrangeFit, ORANGE, 1.6)] },
  { box: [297, 1220, 855, 1452], area: [392, 1232, 811, 1395],
    x: { min: 4.25, max: 4.611, labels: s455XTicks, pad: 25 },
    y: { min: -1.2, max: 5.6, labels: s455YTicks, pad: 22 },
    texts: [note('(S455) Scan 100-455°C', 419, 1281), yTitle(317, 1315), xTitle(571, 1440)],
    datasets: [rings(s455Rings, INK, 3), crosses(s455Cross, TEAL, 3, 1.3), dots(s455Red, RED, 2.6),
      dots(s455Green, GREEN, 2.6), dots(s455Blue, BLUE, 3.2), solid(s455RingsFit, INK), dotted(s455RedFit, RED)] }
];

panels.forEach(buildPanel);
</script>
</body>
</html>
